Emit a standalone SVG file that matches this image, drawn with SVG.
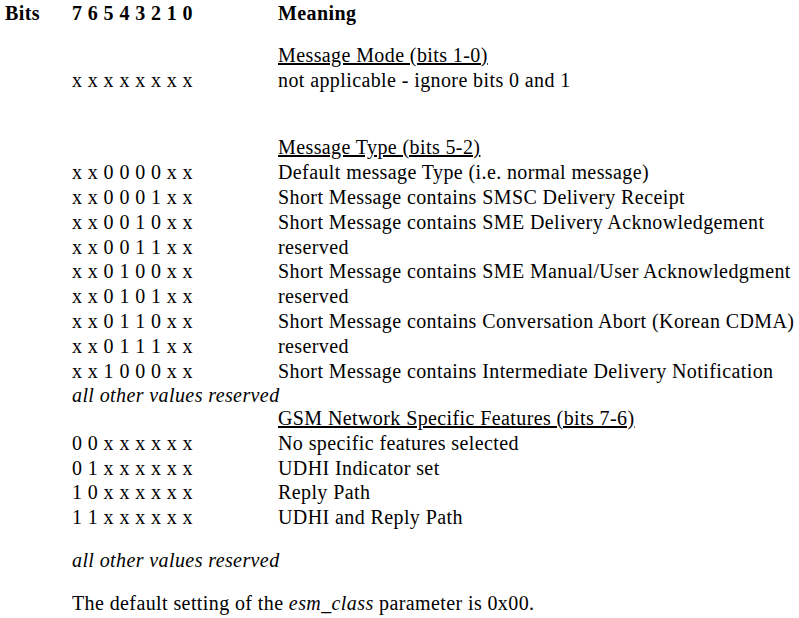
<svg xmlns="http://www.w3.org/2000/svg" width="799" height="618" viewBox="0 0 799 618">
<style>
text{font-family:"Liberation Serif","Times New Roman",serif;font-size:20px;letter-spacing:0.4px;fill:#000}
.b{font-weight:bold}
.i{font-style:italic}
.u{text-decoration:underline}
</style>
<rect width="799" height="618" fill="#fff"/>
<g id="header">
<text class="b" x="5" y="20">Bits</text>
<text class="b" x="72" y="20">7 6 5 4 3 2 1 0</text>
<text class="b" x="278" y="20">Meaning</text>
</g>
<g id="mode">
<text class="u" x="278" y="62">Message Mode (bits 1-0)</text>
<text x="72" y="87">x x x x x x x x</text>
<text x="278" y="87">not applicable - ignore bits 0 and 1</text>
</g>
<g id="type">
<text class="u" x="278" y="154">Message Type (bits 5-2)</text>
<text x="72" y="179">x x 0 0 0 0 x x</text><text x="278" y="179">Default message Type (i.e. normal message)</text>
<text x="72" y="204">x x 0 0 0 1 x x</text><text x="278" y="204">Short Message contains SMSC Delivery Receipt</text>
<text x="72" y="229">x x 0 0 1 0 x x</text><text x="278" y="229">Short Message contains SME Delivery Acknowledgement</text>
<text x="72" y="254">x x 0 0 1 1 x x</text><text x="278" y="254">reserved</text>
<text x="72" y="278">x x 0 1 0 0 x x</text><text x="278" y="278">Short Message contains SME Manual/User Acknowledgment</text>
<text x="72" y="303">x x 0 1 0 1 x x</text><text x="278" y="303">reserved</text>
<text x="72" y="328">x x 0 1 1 0 x x</text><text x="278" y="328">Short Message contains Conversation Abort (Korean CDMA)</text>
<text x="72" y="353">x x 0 1 1 1 x x</text><text x="278" y="353">reserved</text>
<text x="72" y="378">x x 1 0 0 0 x x</text><text x="278" y="378">Short Message contains Intermediate Delivery Notification</text>
<text class="i" x="72" y="402">all other values reserved</text>
</g>
<g id="gsm">
<text class="u" x="278" y="425">GSM Network Specific Features (bits 7-6)</text>
<text x="72" y="450">0 0 x x x x x x</text><text x="278" y="450">No specific features selected</text>
<text x="72" y="475">0 1 x x x x x x</text><text x="278" y="475">UDHI Indicator set</text>
<text x="72" y="499">1 0 x x x x x x</text><text x="278" y="499">Reply Path</text>
<text x="72" y="524">1 1 x x x x x x</text><text x="278" y="524">UDHI and Reply Path</text>
<text class="i" x="72" y="567">all other values reserved</text>
</g>
<g id="footer">
<text x="72" y="610">The default setting of the <tspan class="i">esm_class</tspan> parameter is 0x00.</text>
</g>
</svg>
